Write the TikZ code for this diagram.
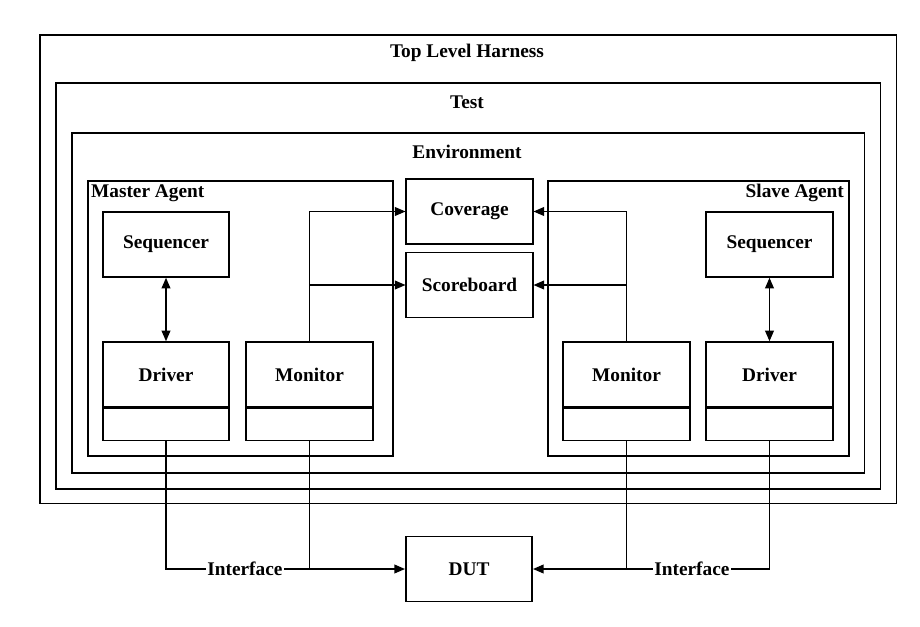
\documentclass[tikz,border=0pt]{standalone}
\usepackage{fontspec}
\setmainfont{Liberation Serif}
\usetikzlibrary{positioning,arrows.meta}
\tikzset{node distance=0pt, auto}

\begin{document}
\begin{tikzpicture}[
  x=0.02cm, y=-0.02cm,
  font=\bfseries\fontsize{11}{13}\selectfont,
  frame/.style={draw, line width=0.9pt, anchor=north west, inner sep=0pt},
  block/.style={draw, line width=0.9pt, minimum width=2.53cm, minimum height=1.3cm, inner sep=0pt},
  part/.style={draw, line width=0.9pt, minimum width=2.53cm, minimum height=0.64cm, inner sep=0pt},
  wire/.style={line width=0.7pt},
  flow/.style={wire, -{Triangle[length=6pt,width=5pt]}},
  both/.style={wire, {Triangle[length=6pt,width=5pt]}-{Triangle[length=6pt,width=5pt]}},
  iface/.style={fill=white, inner sep=1pt, anchor=center}
]
\useasboundingbox (0,0) rectangle (920,626);

% nested containers
\node[frame, minimum width=17.14cm, minimum height=9.38cm] (top) at (39,34) {};
\node[frame, minimum width=16.5cm, minimum height=8.12cm] (test) at (55,82) {};
\node[frame, minimum width=15.86cm, minimum height=6.8cm] (env) at (71,132) {};
\node[frame, minimum width=6.1cm, minimum height=5.5cm] (master) at (87,180) {};
\node[frame, minimum width=6.02cm, minimum height=5.5cm] (slave) at (547,180) {};

\node (toptitle) at (467,53) {Top Level Harness};
\node (testtitle) at (467,102) {Test};
\node (envtitle) at (467,152) {Environment};
\node[anchor=west, inner sep=1pt] (mtitle) at (89,193) {Master Agent};
\node[anchor=east, inner sep=1pt] (stitle) at (846,193) {Slave Agent};

% master agent
\node[block] (mseq) at (166,244.5) {Sequencer};
\node[block] (mdrv) at (166,374.5) {Driver};
\node[part, below=0pt of mdrv] (mdrvb) {};
\node[block] (mmon) at (309.5,374.5) {Monitor};
\node[part, below=0pt of mmon] (mmonb) {};

% analysis blocks
\node[block] (cov) at (469.5,211.5) {Coverage};
\node[block] (score) at (469.5,285) {Scoreboard};

% slave agent
\node[block] (sseq) at (769.5,244.5) {Sequencer};
\node[block] (sdrv) at (769.5,374.5) {Driver};
\node[part, below=0pt of sdrv] (sdrvb) {};
\node[block] (smon) at (626.5,374.5) {Monitor};
\node[part, below=0pt of smon] (smonb) {};

\node[block] (dut) at (469,569) {DUT};

\draw[both] (mseq) -- (mdrv);
\draw[both] (sseq) -- (sdrv);

\draw[flow] (mmon.north) |- (cov.west);
\draw[flow] (mmon.north) |- (score.west);
\draw[flow] (smon.north) |- (cov.east);
\draw[flow] (smon.north) |- (score.east);

\draw[flow] (mdrvb.south) |- node[pos=0.665, iface] {Interface} (dut.west);
\draw[flow] (sdrvb.south) |- node[pos=0.664, iface] {Interface} (dut.east);
\draw[wire] (mmonb.south) -- (mmonb.south |- dut.west);
\draw[wire] (smonb.south) -- (smonb.south |- dut.east);
\end{tikzpicture}
\end{document}
